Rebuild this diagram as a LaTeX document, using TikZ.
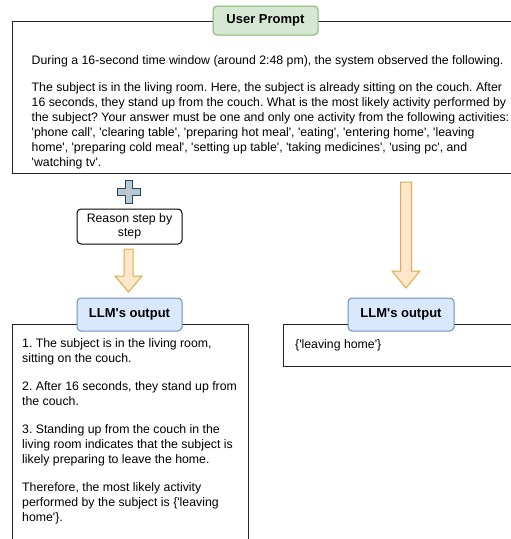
\documentclass[tikz,border=0pt]{standalone}
\usepackage{fontspec}
\setmainfont{Liberation Sans}[Ligatures=TeXOff]
\frenchspacing
\definecolor{gfill}{HTML}{D5E8D4}
\definecolor{gdraw}{HTML}{82B366}
\definecolor{bfill}{HTML}{DAE8FC}
\definecolor{bdraw}{HTML}{6C8EBF}
\definecolor{ofill}{HTML}{FFE6CC}
\definecolor{odraw}{HTML}{E0AC45}
\definecolor{pfill}{HTML}{BAC8D3}
\definecolor{pdraw}{HTML}{23445D}
\begin{document}
\begin{tikzpicture}[x=1pt,y=-1pt,
  frame/.style={draw=black!85,line width=1pt},
  body/.style={inner sep=0pt,anchor=north west,align=left,font=\fontsize{12.3}{15}\selectfont},
  label/.style={rounded corners=4pt,line width=1pt,minimum width=105pt,inner sep=0pt,font=\fontsize{13}{15}\selectfont\bfseries},
  greenlabel/.style={label,draw=gdraw,fill=gfill,minimum height=29pt},
  bluelabel/.style={label,draw=bdraw,fill=bfill,minimum height=33pt},
  reasonbox/.style={draw=black,line width=1pt,rounded corners=4pt,minimum width=105pt,minimum height=35pt,inner sep=0pt,align=center,font=\fontsize{12.3}{14.5}\selectfont},
  blockarrow/.style={draw=odraw,fill=ofill,line width=1pt,line join=miter},
  plusicon/.style={draw=pdraw,fill=pfill,line width=1pt}
]
\useasboundingbox (0,0) rectangle (511,539);

% frames
\draw[frame] (511,21) -- (12,21) -- (12,173) -- (511,173);
\draw[frame] (12,539) -- (12,324) -- (248,324) -- (248,539);
\draw[frame] (511,324) -- (283,324) -- (283,366) -- (511,366);

% top prompt text
\node[body] (prompt) at (31.5,54) {\strut During a 16-second time window (around 2:48 pm), the system observed the following.\\[12pt]
The subject is in the living room. Here, the subject is already sitting on the couch. After\\
16 seconds, they stand up from the couch. What is the most likely activity performed by\\
the subject? Your answer must be one and only one activity from the following activities:\\
'phone call', 'clearing table', 'preparing hot meal', 'eating', 'entering home', 'leaving\\
home', 'preparing cold meal', 'setting up table', 'taking medicines', 'using pc', and\\
'watching tv'.};

\node[greenlabel] (userprompt) at (265.5,20.5) {User Prompt};

% plus icon
\draw[plusicon] (125,180) -- (132,180) -- (132,188) -- (140,188) -- (140,195) -- (132,195) -- (132,203) -- (125,203) -- (125,195) -- (117,195) -- (117,188) -- (125,188) -- cycle;

\node[reasonbox] (reason) at (129.5,226.5) {Reason step by\\step};

% block arrows
\draw[blockarrow] (124,249) -- (133,249) -- (133,276) -- (142,276) -- (128.5,292) -- (115,276) -- (124,276) -- cycle;
\draw[blockarrow] (400.5,182) -- (411.5,182) -- (411.5,271) -- (420,271) -- (406,288) -- (392,271) -- (400.5,271) -- cycle;

% output labels
\node[bluelabel] (outleft) at (129.5,314.5) {LLM's output};
\node[bluelabel,minimum width=106pt] (outright) at (401,314.5) {LLM's output};

% outputs
\node[body] (reasoning) at (22,337) {\strut 1. The subject is in the living room,\\
sitting on the couch.\\[13pt]
2. After 16 seconds, they stand up from\\
the couch.\\[13pt]
3. Standing up from the couch in the\\
living room indicates that the subject is\\
likely preparing to leave the home.\\[13pt]
Therefore, the most likely activity\\
performed by the subject is \{'leaving\\
home'\}.};

\node[body] (direct) at (295,337.5) {\strut\{'leaving home'\}};
\end{tikzpicture}
\end{document}
